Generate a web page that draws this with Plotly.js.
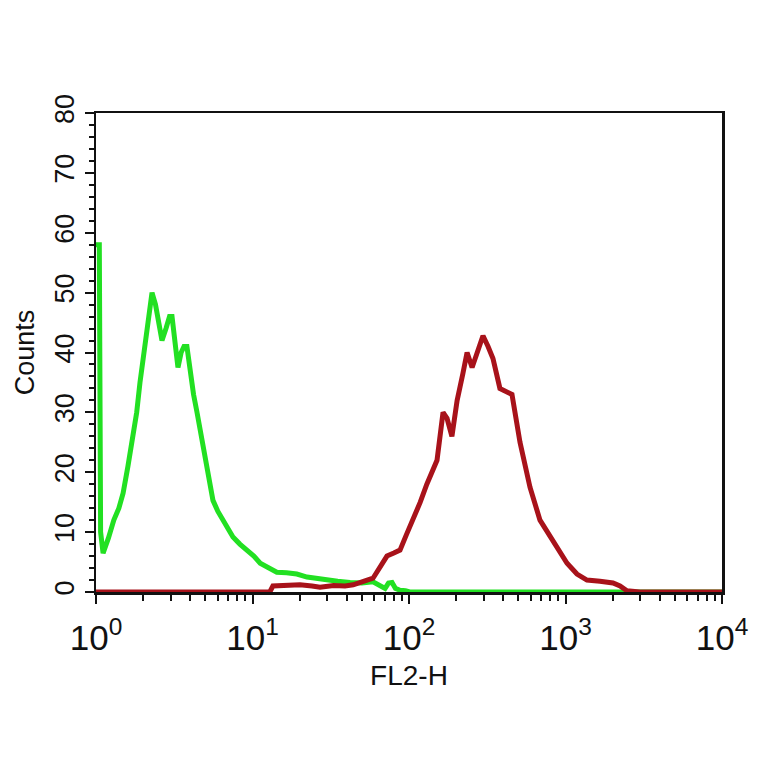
<!DOCTYPE html>
<html>
<head>
<meta charset="utf-8">
<script src="https://cdn.plot.ly/plotly-3.0.1.min.js"></script>
<style>html,body{margin:0;padding:0;background:#fff;}#chart{width:764px;height:764px;}</style>
</head>
<body>
<div id="chart"></div>
<script>
// Isotype control (green) histogram
const greenX = [1.0, 1.05, 1.07, 1.11, 1.2, 1.3, 1.4, 1.49, 1.6, 1.72, 1.82, 1.91, 2.0, 2.06, 2.15, 2.28, 2.4, 2.52, 2.64, 2.8, 2.95, 3.06, 3.2, 3.34, 3.5, 3.65, 3.81, 3.99, 4.2, 4.42, 4.7, 4.97, 5.3, 5.59, 6.0, 6.48, 7.0, 7.5, 8.3, 9.22, 10.2, 11.2, 12.6, 14.3, 16.5, 19.2, 22.3, 26, 29.9, 35, 42, 50, 58.9, 65, 70.3, 74, 77.9, 82, 87.6, 95, 101, 200, 500, 1000, 2000, 5000, 10000];
const greenY = [58, 58, 10, 6.5, 9, 12, 14, 16.5, 21, 26, 30, 35, 39, 42.5, 46, 50, 48, 45, 42, 44, 46, 46, 41, 37.5, 40, 41, 41, 37, 33, 30, 26, 22, 18, 15.3, 13.5, 12, 10.5, 9.2, 8, 7, 6, 4.8, 4, 3.3, 3.2, 3, 2.5, 2.2, 2, 1.8, 1.6, 1.5, 1.7, 1.2, 0.6, 1.5, 1.6, 0.6, 0.3, 0.2, 0, 0, 0, 0, 0, 0, 0];

// Antibody-stained (red) histogram
const redX = [1.0, 5, 12.9, 13.5, 16, 20.1, 24, 27, 33, 39, 44, 48.6, 54, 58.9, 65.3, 72.3, 80, 87.6, 96, 106, 118, 130, 140, 151, 165, 175, 188, 203, 221, 235, 253, 276, 297, 320, 344, 381, 417, 455, 512, 593, 687, 832, 1023, 1184, 1371, 1660, 2012, 2230, 2470, 2990, 10000];
const redY = [0, 0, 0, 1, 1.1, 1.2, 1, 0.8, 1.1, 1, 1.2, 1.5, 2, 2.3, 4, 6, 6.5, 7, 9.5, 12, 15, 18, 20, 22, 30, 29, 26, 32, 36.5, 40, 37.5, 40.5, 42.8, 41, 39, 34, 33.5, 33, 25, 17.5, 12, 8.7, 4.8, 3, 2, 1.8, 1.5, 1, 0.2, 0, 0];

const xTickVals = [1, 10, 100, 1000, 10000];
const xTickText = ['10<sup>0</sup>', '10<sup>1</sup>', '10<sup>2</sup>', '10<sup>3</sup>', '10<sup>4</sup>'];
const yTickVals = [0, 10, 20, 30, 40, 50, 60, 70, 80];

const font = 'Liberation Sans, Arial, sans-serif';

const traces = [
  {x: greenX, y: greenY, type: 'scatter', mode: 'lines', line: {color: '#22e022', width: 5}, cliponaxis: false, hoverinfo: 'skip'},
  {x: redX, y: redY, type: 'scatter', mode: 'lines', line: {color: '#a8121a', width: 5}, cliponaxis: false, hoverinfo: 'skip'}
];

const layout = {
  width: 764, height: 764,
  margin: {l: 96, r: 42, t: 113, b: 172},
  paper_bgcolor: '#fff', plot_bgcolor: '#fff',
  showlegend: false,
  font: {family: font, color: '#111'},
  xaxis: {
    type: 'log', range: [0, 4],
    tickvals: xTickVals, ticktext: xTickText,
    ticks: 'outside', ticklen: 9, tickwidth: 2, tickcolor: '#111',
    showline: true, linecolor: '#111', linewidth: 2.5, mirror: true,
    showgrid: false, zeroline: false,
    ticklabelstandoff: 4,
    tickfont: {size: 35, family: font, color: '#111'},
    minor: {ticks: 'outside', ticklen: 6, tickwidth: 2, tickcolor: '#111', dtick: 'D1', showgrid: false},
    title: {text: 'FL2-H', font: {size: 28, family: font, color: '#111'}, standoff: 10}
  },
  yaxis: {
    range: [0, 80], tickvals: yTickVals,
    ticks: 'outside', ticklen: 9, tickwidth: 2, tickcolor: '#111',
    showline: true, linecolor: '#111', linewidth: 2.5, mirror: true,
    showgrid: false, zeroline: false,
    tickangle: -90,
    tickfont: {size: 27, family: font, color: '#111'},
    minor: {ticks: 'outside', ticklen: 5, tickwidth: 2, tickcolor: '#111', dtick: 2, showgrid: false},
    title: {text: 'Counts', font: {size: 27, family: font, color: '#111'}, standoff: 8}
  }
};

Plotly.newPlot('chart', traces, layout, {staticPlot: true, displayModeBar: false});
</script>
</body>
</html>
